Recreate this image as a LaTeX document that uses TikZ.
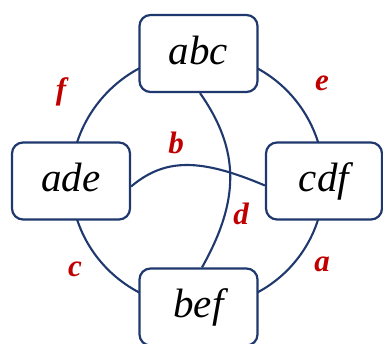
\documentclass[tikz,border=0pt]{standalone}
\usepackage{fontspec}
\setmainfont{Liberation Serif}
\usetikzlibrary{backgrounds}
\definecolor{navy}{RGB}{31,56,110}
\definecolor{lblred}{RGB}{192,0,0}
\tikzset{
  setbox/.style={draw=navy, line width=2.2pt, fill=white, rounded corners=11pt,
    minimum width=118pt, minimum height=77pt, inner sep=0pt,
    text height=28pt, text depth=6pt,
    font=\fontsize{41}{48}\selectfont\itshape},
  edgeline/.style={draw=navy, line width=2.1pt},
  edgelbl/.style={text=lblred, inner sep=0pt,
    font=\fontsize{31}{36}\selectfont\bfseries\itshape}
}
\begin{document}
\begin{tikzpicture}[x=1pt,y=-1pt]
\useasboundingbox (0,0) rectangle (383,344);
\node[setbox] (abc) at (198.5,53.5) {abc};
\node[setbox] (ade) at (71,181) {ade};
\node[setbox, minimum width=116pt] (cdf) at (324,181) {cdf};
\node[setbox] (bef) at (198.5,307) {bef};
\begin{scope}[on background layer]
  \def\k{69.8}
  \draw[edgeline] (abc.center) .. controls +(-\k,0) and +(0,-\k) .. (ade.center);
  \draw[edgeline] (abc.center) .. controls +(\k,0) and +(0,-\k) .. (cdf.center);
  \draw[edgeline] (ade.center) .. controls +(0,\k) and +(-\k,0) .. (bef.center);
  \draw[edgeline] (cdf.center) .. controls +(0,\k) and +(\k,0) .. (bef.center);
  \draw[edgeline] ([yshift=-5.5pt]ade.east) .. controls (165,158) and (200,158) .. ([yshift=-4.5pt]cdf.west);
  \draw[edgeline] ([xshift=1.5pt]abc.south) .. controls (240,150) and (240,200) .. ([xshift=3.5pt]bef.north);
\end{scope}
\node[edgelbl] (lf) at (61,92) {f};
\node[edgelbl] (le) at (322,83) {e};
\node[edgelbl] (lb) at (176,143) {b};
\node[edgelbl] (ld) at (241,213.5) {d};
\node[edgelbl] (lc) at (75,269.5) {c};
\node[edgelbl] (la) at (322,264.5) {a};
\end{tikzpicture}
\end{document}
